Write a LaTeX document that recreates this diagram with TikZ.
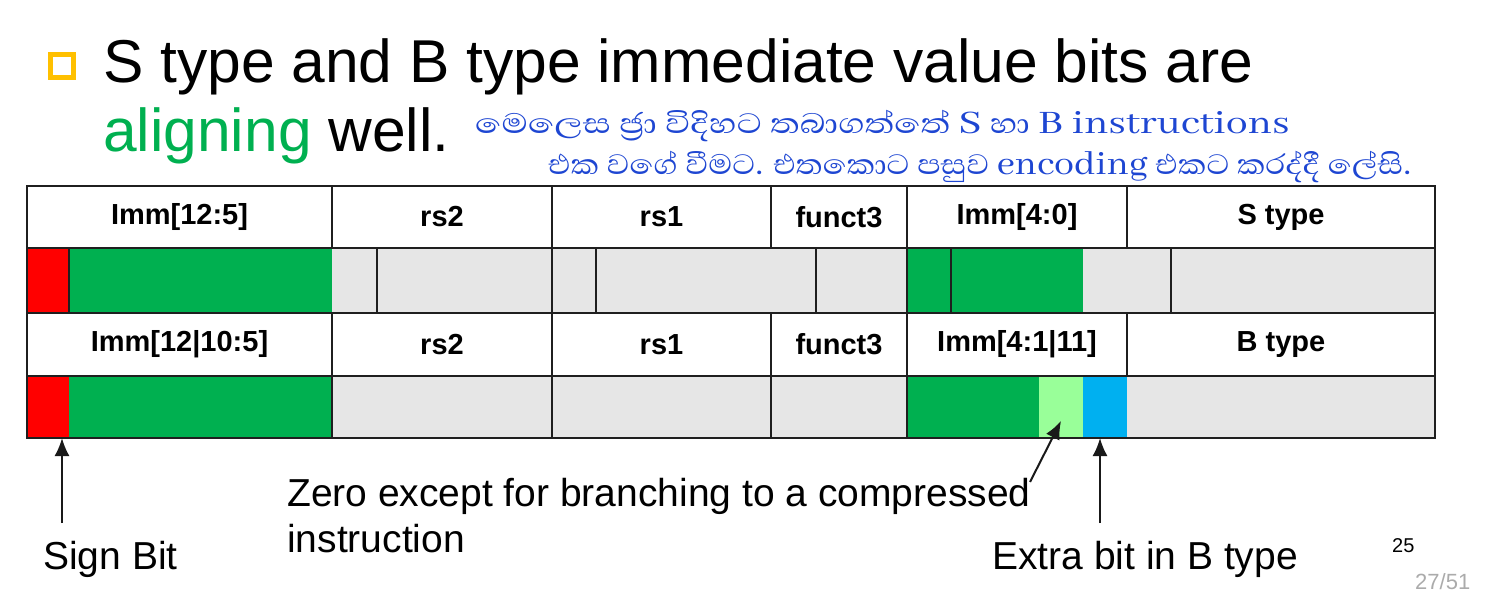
\documentclass[tikz,border=0pt]{standalone}
\usepackage{fontspec}
\setmainfont{Liberation Sans}
\newfontfamily\sinhalafont[Script=Sinhala]{Abhaya Libre}
\usetikzlibrary{arrows.meta}
\definecolor{immgreen}{HTML}{00B050}
\definecolor{signred}{HTML}{FF0000}
\definecolor{zerogreen}{HTML}{99FF99}
\definecolor{extrablue}{HTML}{00B0F0}
\definecolor{fieldgray}{HTML}{E6E6E6}
\definecolor{bulletyellow}{HTML}{FFC000}
\definecolor{inkblue}{HTML}{1E46D2}
\definecolor{pagegray}{HTML}{ABABAB}

\begin{document}
\begin{tikzpicture}[x=1pt,y=-1pt,
  gridline/.style={line width=1.8pt, draw=black!88},
  hcell/.style={gridline, anchor=north west, inner sep=0pt, outer sep=0pt,
    font=\bfseries\fontsize{29}{32}\selectfont},
  bitcell/.style={anchor=north west, inner sep=0pt, outer sep=0pt, fill=#1},
  title/.style={anchor=base west, inner sep=0pt, font=\fontsize{60.5}{66}\selectfont},
  note/.style={anchor=base west, inner sep=0pt, font=\fontsize{39}{44}\selectfont},
  ink/.style={anchor=base west, inner sep=0pt, text=inkblue, font=\sinhalafont\fontsize{36}{40}\selectfont},
  pointer/.style={-{Latex[length=18pt,width=15pt]}, line width=2pt, black!90}
]
\path[use as bounding box] (0,0) rectangle (1487,593);

% bullet and heading
\node[draw=bulletyellow, line width=5pt, fill=white, minimum size=23pt, inner sep=0pt] (bullet) at (62,66) {};
\node[title] (head1) at (103,83) {S type and B type immediate value bits are};
\node[title] (head2) at (103,152) {\textcolor{immgreen}{aligning} well.};

% handwritten remark
\node[ink] (remark1) at (475,134) {\scalebox{1.22}[1]{මෙලෙස ජ්‍රා විදිහට තබාගත්තේ S හා B instructions}};
\node[ink] (remark2) at (548,175) {\scalebox{1.11}[1]{එක වගේ වීමට. එතකොට පසුව encoding එකට කරද්දී ලේසි.}};

% S type immediate bit row
\node[bitcell=signred,   minimum width=42,  minimum height=65] (s1)  at (27,248) {};
\node[bitcell=immgreen,  minimum width=263, minimum height=65] (s2)  at (69,248) {};
\node[bitcell=fieldgray, minimum width=45,  minimum height=65] (s3)  at (332,248) {};
\node[bitcell=fieldgray, minimum width=175, minimum height=65] (s4)  at (377,248) {};
\node[bitcell=fieldgray, minimum width=44,  minimum height=65] (s5)  at (552,248) {};
\node[bitcell=fieldgray, minimum width=220, minimum height=65] (s6)  at (596,248) {};
\node[bitcell=fieldgray, minimum width=91,  minimum height=65] (s7)  at (816,248) {};
\node[bitcell=immgreen,  minimum width=44,  minimum height=65] (s8)  at (907,248) {};
\node[bitcell=immgreen,  minimum width=132, minimum height=65] (s9)  at (951,248) {};
\node[bitcell=fieldgray, minimum width=88,  minimum height=65] (s10) at (1083,248) {};
\node[bitcell=fieldgray, minimum width=264, minimum height=65] (s11) at (1171,248) {};

% B type immediate bit row
\node[bitcell=signred,   minimum width=42,  minimum height=62] (b1) at (27,376) {};
\node[bitcell=immgreen,  minimum width=263, minimum height=62] (b2) at (69,376) {};
\node[bitcell=fieldgray, minimum width=220, minimum height=62] (b3) at (332,376) {};
\node[bitcell=fieldgray, minimum width=219, minimum height=62] (b4) at (552,376) {};
\node[bitcell=fieldgray, minimum width=136, minimum height=62] (b5) at (771,376) {};
\node[bitcell=immgreen,  minimum width=132, minimum height=62] (b6) at (907,376) {};
\node[bitcell=zerogreen, minimum width=44,  minimum height=62] (b7) at (1039,376) {};
\node[bitcell=extrablue, minimum width=44,  minimum height=62] (b8) at (1083,376) {};
\node[bitcell=fieldgray, minimum width=308, minimum height=62] (b9) at (1127,376) {};

% S type field names
\node[hcell, minimum width=305, minimum height=62] (sa) at (27,186)   {Imm[12:5]};
\node[hcell, minimum width=220, minimum height=62] (sb) at (332,186)  {rs2};
\node[hcell, minimum width=219, minimum height=62] (sc) at (552,186)  {rs1};
\node[hcell, minimum width=136, minimum height=62] (sd) at (771,186)  {funct3};
\node[hcell, minimum width=220, minimum height=62] (se) at (907,186)  {Imm[4:0]};
\node[hcell, minimum width=308, minimum height=62] (sf) at (1127,186) {S type};

% B type field names
\node[hcell, minimum width=305, minimum height=63] (ba) at (27,313)   {Imm[12|10:5]};
\node[hcell, minimum width=220, minimum height=63] (bb) at (332,313)  {rs2};
\node[hcell, minimum width=219, minimum height=63] (bc) at (552,313)  {rs1};
\node[hcell, minimum width=136, minimum height=63] (bd) at (771,313)  {funct3};
\node[hcell, minimum width=220, minimum height=63] (be) at (907,313)  {Imm[4:1|11]};
\node[hcell, minimum width=308, minimum height=63] (bf) at (1127,313) {B type};

% bit row outlines and dividers
\draw[gridline] (s1.north west) rectangle (s11.south east);
\foreach \c in {s2,s4,s5,s6,s7,s8,s9,s11}
  \draw[gridline] (\c.north west) -- (\c.south west);
\draw[gridline] (b1.north west) rectangle (b9.south east);
\foreach \c in {b3,b4,b5,b6}
  \draw[gridline] (\c.north west) -- (\c.south west);

% annotations
\node[note] (signlbl) at (43,569) {Sign Bit};
\node[note] (zerolbl1) at (287,506) {Zero except for branching to a compressed};
\node[note] (zerolbl2) at (287,552) {instruction};
\node[note] (extralbl) at (992,569) {Extra bit in B type};

\coordinate (signtail) at (62,523);
\coordinate (zerotail) at (1030,482);
\coordinate (zerotip) at (1061,421);
\coordinate (extratail) at (1100,523);
\draw[pointer] (signtail) -- (signtail |- b1.south);
\draw[pointer] (zerotail) -- (zerotip);
\draw[pointer] (extratail) -- (extratail |- b8.south);

% slide numbers
\node[anchor=base west, inner sep=0pt, font=\fontsize{20}{24}\selectfont] (slideno) at (1392,552) {25};
\node[anchor=base west, inner sep=0pt, text=pagegray, font=\fontsize{22}{26}\selectfont] (pageno) at (1415,589) {27/51};
\end{tikzpicture}
\end{document}
